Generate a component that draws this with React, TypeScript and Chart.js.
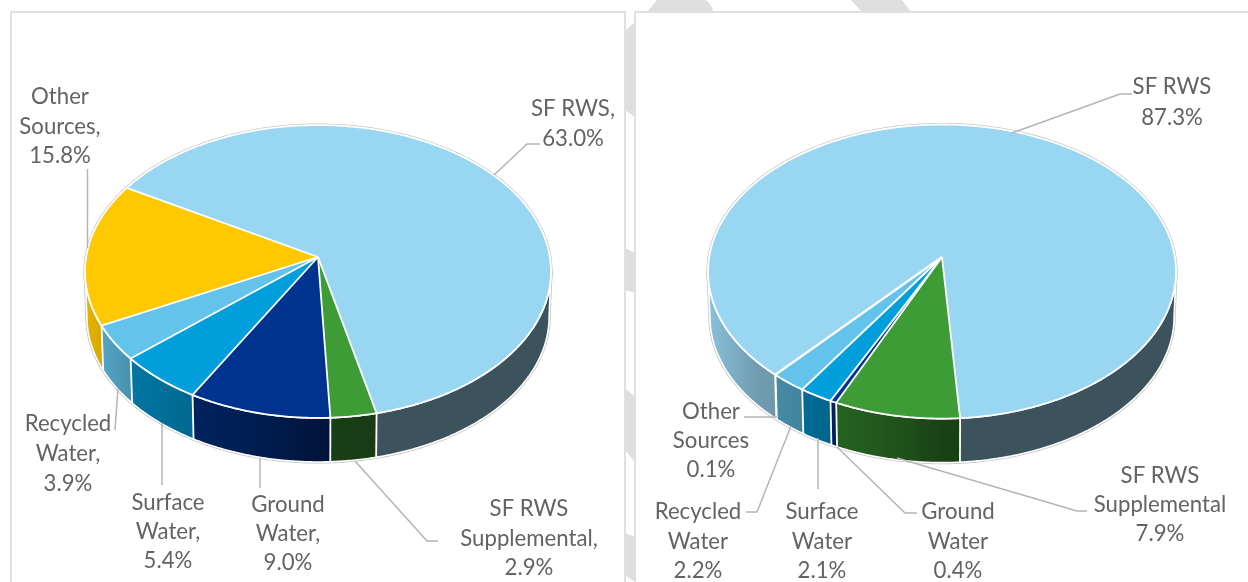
import React, { useEffect, useRef } from "react";
import { Chart, registerables } from "chart.js";

Chart.register(...registerables);

const categories = ["SF RWS", "SF RWS Supplemental", "Ground Water", "Surface Water", "Recycled Water", "Other Sources"];
const categoryLines = [["SF RWS"], ["SF RWS", "Supplemental"], ["Ground", "Water"], ["Surface", "Water"], ["Recycled", "Water"], ["Other", "Sources"]];
const leftValues = [63.0, 2.9, 9.0, 5.4, 3.9, 15.8];
const rightValues = [87.3, 7.9, 0.4, 2.1, 2.2, 0.1];
const sliceColors = ["#99D6F1", "#3D9C35", "#00338F", "#009FDB", "#63C3EA", "#FFC800"];

// Wall lighting: [position across the pie from left (0) to right (1), brightness]
const wallLight: [number, number][] = [[0, 0.9], [0.1, 0.74], [0.225, 0.66], [0.35, 0.58], [0.5, 0.42], [0.55, 0.39], [1, 0.39]];

type Layout = { cx: number; y: number[] };
const leftLabels: Layout[] = [
  { cx: 573, y: [109, 139] },
  { cx: 529, y: [509, 539, 568] },
  { cx: 288, y: [505, 534, 563] },
  { cx: 168, y: [503, 532, 561] },
  { cx: 68, y: [424, 454, 484] },
  { cx: 60, y: [97, 127, 156] },
];
const leftLeaders = [
  [[494, 175], [527, 144], [540, 144]],
  [[355, 461], [427, 541], [438, 541]],
  [[260, 458], [260, 488]],
  [[162, 423], [162, 485]],
  [[118, 388], [115, 430]],
  [[87.5, 169], [87.5, 248]],
];
const rightLabels: Layout[] = [
  { cx: 542, y: [87, 118] },
  { cx: 530, y: [476, 505, 534] },
  { cx: 328, y: [512, 542, 571] },
  { cx: 192, y: [512, 542, 571] },
  { cx: 68, y: [512, 542, 571] },
  { cx: 81, y: [412, 441, 470] },
];
const rightLeaders = [
  [[382, 133], [490, 94], [502, 94]],
  [[267, 458], [447, 511], [457, 511]],
  [[207, 447], [275, 513], [287, 513]],
  [[188, 438], [188, 489]],
  [[161, 426], [127, 512], [116, 512]],
  [[114, 417], [147, 417]],
];

const TILT = -0.099; // perspective term
const Y_RATIO = 0.6223; // vertical foreshortening
const EDGE_SCALE = 0.992; // lower rim is slightly smaller
const DROP = 45.2; // extrusion
const SLIVER = 0.6; // degrees: thinner slices read as one separator
const RAD = Math.PI / 180;

function shade(hex: string, f: number) {
  const n = parseInt(hex.slice(1), 16);
  const c = [(n >> 16) & 255, (n >> 8) & 255, n & 255].map((v) => Math.round(v * f));
  return `rgb(${c[0]},${c[1]},${c[2]})`;
}

const pie3d = {
  id: "pie3d",
  beforeDatasetDraw(chart: any) {
    const ctx: CanvasRenderingContext2D = chart.ctx;
    const arcs = chart.getDatasetMeta(0).data;
    const { x: cx, y: cy, outerRadius: R } = arcs[0].getProps(["x", "y", "outerRadius"], true);
    const colors = chart.data.datasets[0].backgroundColor as string[];
    const c = R * Math.sqrt(1 - TILT * TILT);
    const a = R * Y_RATIO;
    const yc = cy + (a * -TILT) / (1 - TILT * TILT);
    const top = (deg: number) => {
      const X = Math.sin(deg * RAD);
      const Y = -Math.cos(deg * RAD);
      const w = 1 / (1 + TILT * Y);
      return [cx + c * X * w, cy + a * Y * w];
    };
    const low = (deg: number) => {
      const [x, y] = top(deg);
      return [cx + EDGE_SCALE * (x - cx), yc + DROP + EDGE_SCALE * (y - yc)];
    };
    const frontA = 90 + Math.asin(-TILT) / RAD;
    const frontB = 270 - Math.asin(-TILT) / RAD;
    const steps = (s: number, e: number) => {
      const n = Math.max(2, Math.ceil((e - s) * 2));
      return Array.from({ length: n + 1 }, (_, i) => s + ((e - s) * i) / n);
    };
    const wallPath = (s: number, e: number) => {
      ctx.beginPath();
      steps(s, e).forEach((d, i) => {
        const p = top(d);
        i ? ctx.lineTo(p[0], p[1]) : ctx.moveTo(p[0], p[1]);
      });
      steps(s, e).reverse().forEach((d) => {
        const p = low(d);
        ctx.lineTo(p[0], p[1]);
      });
      ctx.closePath();
    };
    const rimPath = () => {
      ctx.beginPath();
      steps(0, 360).forEach((d, i) => {
        const p = top(d);
        i ? ctx.lineTo(p[0], p[1]) : ctx.moveTo(p[0], p[1]);
      });
      ctx.closePath();
    };
    const slices: number[][] = arcs.map((arc: any) => {
      const p = arc.getProps(["startAngle", "endAngle"], true);
      return [p.startAngle / RAD + 90, p.endAngle / RAD + 90];
    });
    const isSliver = (s: number[]) => s[1] - s[0] < SLIVER;
    const separators: { deg: number; width: number }[] = [];
    slices.forEach((s, i) => {
      const prev = slices[(i + slices.length - 1) % slices.length];
      if (isSliver(s)) separators.push({ deg: (s[0] + s[1]) / 2, width: 2.2 });
      else if (!isSliver(prev)) separators.push({ deg: s[0], width: 1.8 });
    });

    ctx.save();
    ctx.lineJoin = "round";

    // grey outline of the whole solid
    ctx.strokeStyle = "#c6c6c6";
    ctx.lineWidth = 3.2;
    wallPath(frontA, frontB);
    ctx.stroke();
    rimPath();
    ctx.stroke();

    // walls
    slices.forEach(([s, e], i) => {
      for (let k = -1; k <= 2; k++) {
        const from = Math.max(s, frontA + 360 * k);
        const to = Math.min(e, frontB + 360 * k);
        if (to <= from) continue;
        const g = ctx.createLinearGradient(cx - R, 0, cx + R, 0);
        wallLight.forEach(([pos, f]) => g.addColorStop(pos, shade(colors[i], f)));
        wallPath(from, to);
        ctx.fillStyle = g;
        ctx.fill();
      }
    });
    ctx.strokeStyle = "#ffffff";
    ctx.lineWidth = 1.6;
    wallPath(frontA, frontB);
    ctx.stroke();
    separators.forEach(({ deg, width }) => {
      const d = ((deg % 360) + 360) % 360;
      if (d <= frontA || d >= frontB) return;
      const p = top(d);
      const q = low(d);
      ctx.lineWidth = width;
      ctx.beginPath();
      ctx.moveTo(p[0], p[1]);
      ctx.lineTo(q[0], q[1]);
      ctx.stroke();
    });

    // top faces
    slices.forEach(([s, e], i) => {
      ctx.beginPath();
      ctx.moveTo(cx, cy);
      steps(s, e).forEach((d) => {
        const p = top(d);
        ctx.lineTo(p[0], p[1]);
      });
      ctx.closePath();
      ctx.fillStyle = colors[i];
      ctx.fill();
    });
    ctx.strokeStyle = "#ffffff";
    ctx.lineWidth = 1.8;
    rimPath();
    ctx.stroke();
    separators.forEach(({ deg, width }) => {
      const p = top(deg);
      ctx.lineWidth = width;
      ctx.beginPath();
      ctx.moveTo(cx, cy);
      ctx.lineTo(p[0], p[1]);
      ctx.stroke();
    });
    ctx.restore();
    return false; // the solid above replaces the flat arcs
  },
  afterDraw(chart: any, _args: any, opts: any) {
    const ctx: CanvasRenderingContext2D = chart.ctx;
    const values = chart.data.datasets[0].data as number[];
    ctx.save();
    ctx.strokeStyle = "#b4b4b4";
    ctx.lineWidth = 1.5;
    opts.leaders.forEach((pts: number[][]) => {
      ctx.beginPath();
      pts.forEach((p, i) => (i ? ctx.lineTo(p[0], p[1]) : ctx.moveTo(p[0], p[1])));
      ctx.stroke();
    });
    ctx.fillStyle = "#636363";
    ctx.font = opts.font;
    ctx.textAlign = "center";
    ctx.textBaseline = "middle";
    opts.labels.forEach((l: Layout, i: number) => {
      const names = categoryLines[i];
      const lines = [...names.slice(0, -1), names[names.length - 1] + opts.separator, values[i].toFixed(1) + "%"];
      lines.forEach((t, j) => ctx.fillText(t, l.cx, l.y[j]));
    });
    ctx.restore();
  },
};

function Pie3D(props: {
  values: number[];
  rotation: number;
  radius: number;
  left: number;
  width: number;
  paddingLeft: number;
  labels: Layout[];
  leaders: number[][][];
  separator: string;
}) {
  const ref = useRef<HTMLCanvasElement>(null);
  useEffect(() => {
    const chart = new Chart(ref.current as HTMLCanvasElement, {
      type: "pie",
      data: {
        labels: categories,
        datasets: [{ data: props.values, backgroundColor: sliceColors, borderWidth: 0 }],
      },
      options: {
        responsive: false,
        animation: false,
        rotation: props.rotation,
        radius: props.radius,
        layout: { padding: { left: props.paddingLeft, right: 0, top: 0, bottom: 68 } },
        plugins: {
          legend: { display: false },
          tooltip: { enabled: false },
          pie3d: {
            labels: props.labels,
            leaders: props.leaders,
            separator: props.separator,
            font: '22.2px Lato, "Noto Sans", sans-serif',
          },
        },
      } as any,
      plugins: [pie3d as any],
    });
    return () => chart.destroy();
  }, []);
  return (
    <canvas
      ref={ref}
      width={props.width}
      height={582}
      style={{ position: "absolute", left: props.left, top: 0, width: props.width, height: 582 }}
    />
  );
}

const panel = (left: number, width: number): React.CSSProperties => ({
  position: "absolute",
  left,
  top: 11,
  width,
  height: 600,
  border: "2px solid #e0e0e0",
  background: "#ffffff",
  boxSizing: "border-box",
});

export default function App() {
  return (
    <div style={{ position: "absolute", left: 0, top: 0, width: 1248, height: 582, overflow: "hidden", background: "#fff" }}>
      <svg width={1248} height={582} style={{ position: "absolute", left: 0, top: 0 }}>
        <g fill="#dedede">
          <path d="M647 12 L657 0 L706 0 Q713 6 713 12 Z" />
          <path d="M851 0 L902 0 L911 12 L862 12 Z" />
          <path d="M625 31 L635 22 L635 117 L625 110 Z" />
          <path d="M625 248 L635 253 L635 293 L625 290 Z" />
          <path d="M625 388 L635 397 L635 462 L625 450 Z" />
          <path d="M625 533 L635 537 L635 582 L625 575 Z" />
        </g>
      </svg>
      <div style={panel(10, 616)} />
      <div style={panel(634, 640)} />
      <Pie3D values={leftValues} rotation={300} radius={233} left={0} width={630} paddingLeft={6} labels={leftLabels} leaders={leftLeaders} separator="," />
      <Pie3D values={rightValues} rotation={221.7} radius={234} left={630} width={618} paddingLeft={6} labels={rightLabels} leaders={rightLeaders} separator="" />
    </div>
  );
}
